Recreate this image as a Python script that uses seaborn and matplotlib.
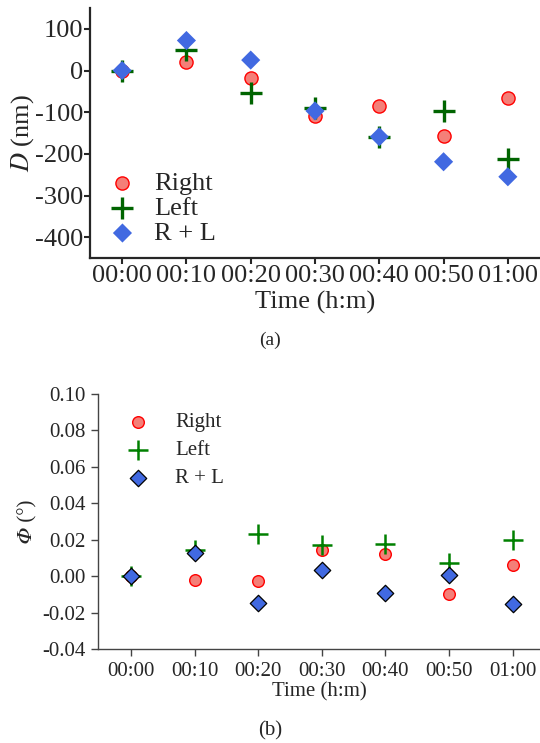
import numpy as np
import pandas as pd
import seaborn as sns
import matplotlib
matplotlib.use("Agg")
from matplotlib import pyplot as plt

sns.set_style("ticks")
plt.rcParams["font.family"] = ["Liberation Serif", "DejaVu Serif"]
plt.rcParams["mathtext.fontset"] = "stix"

TIMES = ["00:00", "00:10", "00:20", "00:30", "00:40", "00:50", "01:00"]

# panel (a): displacement D (nm)
d_right = [0, 21, -17, -109, -84, -157, -65]
d_left = [0, 50, -54, -89, -159, -97, -213]
d_rl = [0, 72, 25, -97, -159, -219, -255]

# panel (b): angle Phi (deg)
p_right = [0.0, -0.0022, -0.0027, 0.0142, 0.0124, -0.0100, 0.0059]
p_left = [0.0, 0.0146, 0.0230, 0.0170, 0.0174, 0.0070, 0.0197]
p_rl = [0.0, 0.0126, -0.0146, 0.0033, -0.0091, 0.0005, -0.0153]

fig = plt.figure(figsize=(5.4, 7.43), dpi=100)
ax1 = fig.add_axes([90 / 540, 1 - 258 / 743, 1 - 90 / 540, 250 / 743])
ax2 = fig.add_axes([98 / 540, 1 - 649 / 743, 1 - 98 / 540, 255 / 743])


def draw(ax, right, left, rl, big):
    df = pd.DataFrame({"time": TIMES, "Right": right, "Left": left, "R + L": rl})
    if big:
        sns.scatterplot(data=df, x="time", y="Right", ax=ax, marker="o", s=90,
                        color="#f47f78", edgecolor="red", linewidth=1.0, label="Right", zorder=3)
        sns.scatterplot(data=df, x="time", y="Left", ax=ax, marker="+", s=230,
                        color="darkgreen", linewidth=2.4, label="Left", zorder=4)
        sns.scatterplot(data=df, x="time", y="R + L", ax=ax, marker="D", s=95,
                        color="royalblue", edgecolor="none", linewidth=0, label="R + L", zorder=5)
    else:
        sns.scatterplot(data=df, x="time", y="Right", ax=ax, marker="o", s=70,
                        color="#f47f78", edgecolor="red", linewidth=1.0, label="Right", zorder=3)
        sns.scatterplot(data=df, x="time", y="Left", ax=ax, marker="+", s=200,
                        color="green", linewidth=1.8, label="Left", zorder=4)
        sns.scatterplot(data=df, x="time", y="R + L", ax=ax, marker="D", s=70,
                        color="royalblue", edgecolor="black", linewidth=0.9, label="R + L", zorder=5)


draw(ax1, d_right, d_left, d_rl, True)
ax1.set_xlim(-0.5, 6.5)
ax1.set_ylim(-450, 150)
ax1.set_yticks([100, 0, -100, -200, -300, -400])
ax1.set_yticklabels(["100", "0", "-100", "-200", "-300", "-400"])
ax1.set_xlabel("Time (h:m)", fontsize=19, labelpad=3)
ax1.set_ylabel("$D$ (nm)", fontsize=19, labelpad=-1)
ax1.tick_params(labelsize=19, width=1.5, length=4, direction="out", pad=1)
for side in ["left", "bottom"]:
    ax1.spines[side].set_linewidth(1.6)
sns.despine(ax=ax1)
ax1.legend(loc="lower left", frameon=False, fontsize=19, handletextpad=0.2,
           borderaxespad=0.0, labelspacing=0.06, bbox_to_anchor=(-0.01, 0.01))

draw(ax2, p_right, p_left, p_rl, False)
ax2.set_xlim(-0.52, 6.43)
ax2.set_ylim(-0.04, 0.10)
ax2.set_yticks(np.arange(-0.04, 0.101, 0.02))
ax2.set_yticklabels(["-0.04", "-0.02", "0.00", "0.02", "0.04", "0.06", "0.08", "0.10"])
ax2.set_xlabel("Time (h:m)", fontsize=15, labelpad=1)
ax2.set_ylabel("\U0001D6F7 (°)", fontsize=15, labelpad=3,
               family=["Liberation Serif", "STIXGeneral", "DejaVu Serif"])
ax2.tick_params(labelsize=15, width=1.0, length=5, direction="out", color="#444444", pad=4)
for side in ["left", "bottom"]:
    ax2.spines[side].set_linewidth(1.0)
    ax2.spines[side].set_color("#444444")
sns.despine(ax=ax2)
ax2.legend(loc="upper left", frameon=False, fontsize=15, handletextpad=0.8,
           labelspacing=0.4, bbox_to_anchor=(0.0, 1.0))

fig.text(0.5, 1 - 340 / 743, "(a)", ha="center", va="center", fontsize=14)
fig.text(0.5, 1 - 731 / 743, "(b)", ha="center", va="center", fontsize=15)

fig.savefig("out.png", dpi=100)
